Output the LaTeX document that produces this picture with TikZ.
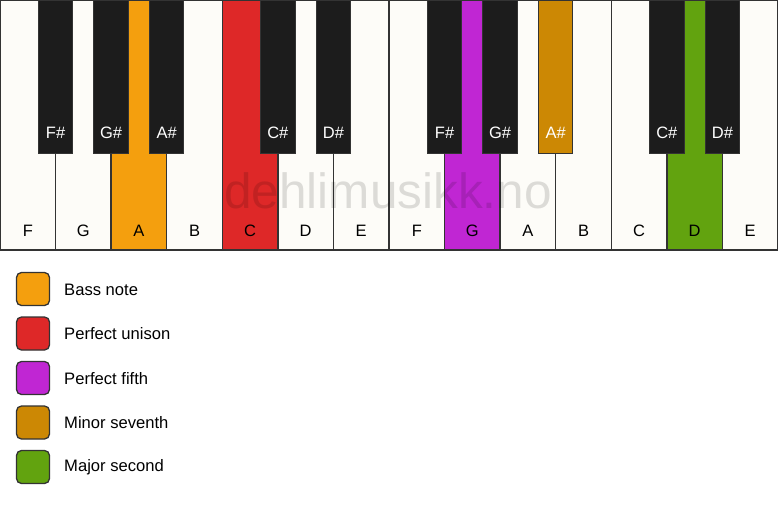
\documentclass[tikz,border=0pt]{standalone}
\usepackage{fontspec}
\setmainfont{Liberation Sans}
\definecolor{keywhite}{HTML}{FDFCF8}
\definecolor{keyblack}{HTML}{1C1C1C}
\definecolor{edge}{HTML}{333333}
\definecolor{cbass}{HTML}{F49F0E}
\definecolor{cunison}{HTML}{DE2828}
\definecolor{cfifth}{HTML}{C026D3}
\definecolor{cseventh}{HTML}{CC8804}
\definecolor{csecond}{HTML}{62A30F}
\tikzset{
  wkey/.style={draw=edge, line width=1.4pt, fill=keywhite, minimum width=55.57pt, minimum height=250pt, anchor=north west, inner sep=0pt, outer sep=0pt},
  bkey/.style={draw=edge, line width=1pt, fill=keyblack, minimum width=34.5pt, minimum height=153pt, anchor=north, inner sep=0pt, outer sep=0pt},
  wlab/.style={font=\fontsize{16.5}{16.5}\selectfont, text=black, inner sep=0pt},
  blab/.style={font=\fontsize{16.5}{16.5}\selectfont, text=white, inner sep=0pt},
  legbox/.style={draw=edge, line width=1.3pt, rounded corners=5pt, minimum width=33pt, minimum height=33pt, inner sep=0pt},
  legtext/.style={font=\fontsize{16.6}{16.6}\selectfont, anchor=west, inner sep=0pt}
}
\begin{document}
\begin{tikzpicture}[x=1pt,y=-1pt]
\useasboundingbox[fill=white] (0,0) rectangle (778,506);
% white keys
\foreach \i/\n/\c in {0/F/keywhite,1/G/keywhite,2/A/cbass,3/B/keywhite,4/C/cunison,5/D/keywhite,6/E/keywhite,7/F/keywhite,8/G/cfifth,9/A/keywhite,10/B/keywhite,11/C/keywhite,12/D/csecond,13/E/keywhite}{
  \node[wkey, fill=\c] (w\i) at ({\i*55.57},0) {};
  \node[wlab] (wl\i) at ({\i*55.57+27.8},230.5) {\n};
}
% watermark
\node[font=\fontsize{49.5}{49.5}\selectfont, text=black, text opacity=0.13, anchor=base, inner sep=0pt] (wm) at (388,208) {dehlimusikk.no};
% black keys
\foreach \i/\n/\c in {1/F\#/keyblack,2/G\#/keyblack,3/A\#/keyblack,5/C\#/keyblack,6/D\#/keyblack,8/F\#/keyblack,9/G\#/keyblack,10/A\#/cseventh,12/C\#/keyblack,13/D\#/keyblack}{
  \node[bkey, fill=\c] (b\i) at ({\i*55.57},0) {};
  \node[blab] (bl\i) at ({\i*55.57},133) {\n};
}
% legend
\foreach \k/\c/\t in {0/cbass/Bass note,1/cunison/Perfect unison,2/cfifth/Perfect fifth,3/cseventh/Minor seventh,4/csecond/Major second}{
  \node[legbox, fill=\c] (lb\k) at (33,{289+\k*44.5}) {};
  \node[legtext] (lt\k) at (64,{289.5+\k*44.5}) {\t};
}
\end{tikzpicture}
\end{document}
